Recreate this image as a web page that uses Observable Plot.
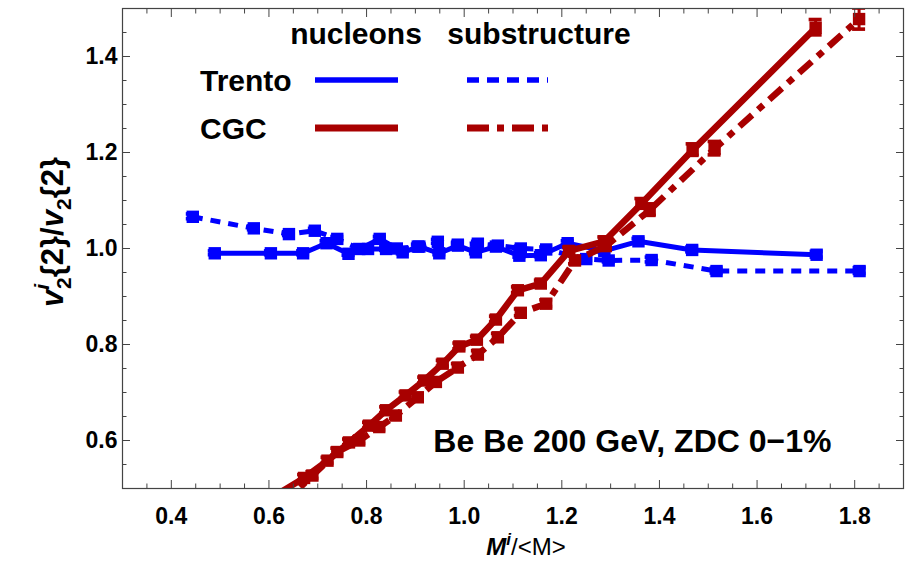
<!DOCTYPE html>
<html><head><meta charset="utf-8">
<script src="https://cdn.jsdelivr.net/npm/d3@7"></script>
<script src="https://cdn.jsdelivr.net/npm/@observablehq/plot@0.6"></script>
<style>
body{margin:0;background:#fff;}
#chart{width:907px;height:564px;}
</style></head><body><div id="chart"></div>
<script>
// ---- data ----
const trentoNucX = [0.489,0.604,0.670,0.718,0.763,0.803,0.840,0.874,0.908,0.949,0.987,1.024,1.065,1.113,1.157,1.212,1.287,1.357,1.467,1.722];
const trentoNucY = [0.990,0.990,0.990,1.011,0.989,0.999,0.999,0.992,1.004,0.990,1.006,0.992,1.004,0.985,0.986,1.011,0.995,1.015,0.997,0.987];
const trentoNucErr = [0.004,0.004,0.004,0.004,0.004,0.004,0.004,0.004,0.004,0.004,0.004,0.004,0.004,0.004,0.004,0.004,0.004,0.005,0.005,0.006];

const trentoSubX = [0.444,0.569,0.641,0.694,0.740,0.785,0.827,0.862,0.905,0.946,0.987,1.028,1.069,1.116,1.168,1.250,1.296,1.384,1.517,1.810];
const trentoSubY = [1.066,1.042,1.030,1.037,1.020,0.999,1.020,1.000,1.004,1.014,1.008,1.010,1.006,1.000,0.998,0.978,0.975,0.976,0.953,0.953];
const trentoSubErr = [0.005,0.004,0.004,0.004,0.004,0.004,0.004,0.004,0.004,0.004,0.004,0.004,0.004,0.004,0.004,0.004,0.004,0.005,0.005,0.006];

const cgcNucX = [0.489,0.604,0.672,0.720,0.764,0.805,0.840,0.880,0.918,0.956,0.990,1.026,1.065,1.110,1.157,1.215,1.287,1.363,1.468,1.720];
const cgcNucY = [0.370,0.480,0.522,0.558,0.596,0.631,0.663,0.694,0.725,0.760,0.796,0.810,0.852,0.913,0.927,0.995,1.015,1.093,1.205,1.460];
const cgcNucErr = [0.006,0.006,0.006,0.006,0.006,0.006,0.006,0.006,0.006,0.006,0.006,0.006,0.006,0.006,0.006,0.007,0.008,0.010,0.012,0.016];

const cgcSubX = [0.444,0.569,0.641,0.689,0.740,0.785,0.826,0.860,0.905,0.942,0.987,1.028,1.069,1.116,1.168,1.227,1.290,1.380,1.513,1.809];
const cgcSubY = [0.300,0.410,0.480,0.527,0.576,0.600,0.628,0.652,0.690,0.722,0.752,0.779,0.815,0.866,0.885,0.975,1.005,1.080,1.208,1.478];
const cgcSubErr = [0.007,0.007,0.007,0.007,0.007,0.007,0.007,0.007,0.007,0.007,0.007,0.007,0.007,0.007,0.007,0.008,0.009,0.012,0.014,0.022];

const xMajor = [0.4,0.6,0.8,1.0,1.2,1.4,1.6,1.8];
const xMinor = [0.35,0.45,0.5,0.55,0.65,0.7,0.75,0.85,0.9,0.95,1.05,1.1,1.15,1.25,1.3,1.35,1.45,1.5,1.55,1.65,1.7,1.75,1.85];
const yMajor = [0.6,0.8,1.0,1.2,1.4];
const yMinor = [0.55,0.65,0.7,0.75,0.85,0.9,0.95,1.05,1.1,1.15,1.25,1.3,1.35,1.45];

const legendCols = ["nucleons","substructure"];
const legendRows = ["Trento","CGC"];
const annotation = ["Be Be 200 GeV, ZDC 0\u22121%"];

// ---- styles ----
const BLUE = "#0000ff", RED = "#a80000";
const FONT = "'Liberation Sans', Arial, sans-serif";
const series = [
  {name:"Trento nucleons", xs:trentoNucX, ys:trentoNucY, es:trentoNucErr, color:BLUE, width:5, dash:null},
  {name:"Trento substructure", xs:trentoSubX, ys:trentoSubY, es:trentoSubErr, color:BLUE, width:5, dash:"10,8"},
  {name:"CGC nucleons", xs:cgcNucX, ys:cgcNucY, es:cgcNucErr, color:RED, width:6.5, dash:null},
  {name:"CGC substructure", xs:cgcSubX, ys:cgcSubY, es:cgcSubErr, color:RED, width:6.5, dash:"17,8,7,8"}
];
const rowsOf = s => s.xs.map((x,i)=>({x, y:s.ys[i], lo:s.ys[i]-s.es[i], hi:s.ys[i]+s.es[i]}));
const inside = d => d.y >= 0.5 && d.y <= 1.5;

const marks = [];
for (const s of series) {
  const rows = rowsOf(s);
  const vis = rows.filter(inside);
  marks.push(Plot.line(rows, {x:"x", y:"y", stroke:s.color, strokeWidth:s.width, strokeDasharray:s.dash, strokeLinecap:"butt", strokeLinejoin:"miter", clip:true}));
  marks.push(Plot.ruleX(vis, {x:"x", y1:"lo", y2:"hi", stroke:s.color, strokeWidth:3, clip:true}));
  marks.push(Plot.rect(vis, {x1:"x", x2:"x", y1:"hi", y2:"hi", insetLeft:-6.5, insetRight:-6.5, insetTop:-1.8, insetBottom:-1.8, fill:s.color, clip:true}));
  marks.push(Plot.rect(vis, {x1:"x", x2:"x", y1:"lo", y2:"lo", insetLeft:-6.5, insetRight:-6.5, insetTop:-1.8, insetBottom:-1.8, fill:s.color, clip:true}));
  marks.push(Plot.dot(vis, {x:"x", y:"y", symbol:"square", r:7, fill:s.color, stroke:"none"}));
}

const TC = "#444";
const noText = () => "";
const axes = [
  Plot.axisX(xMajor, {anchor:"bottom", tickSize:-8, tickFormat:noText, label:null, stroke:TC}),
  Plot.axisX(xMinor, {anchor:"bottom", tickSize:-4.5, tickFormat:noText, label:null, stroke:TC}),
  Plot.axisX(xMajor, {anchor:"top", tickSize:-8, tickFormat:noText, label:null, stroke:TC}),
  Plot.axisX(xMinor, {anchor:"top", tickSize:-4.5, tickFormat:noText, label:null, stroke:TC}),
  Plot.axisY(yMajor, {anchor:"left", tickSize:-8, tickFormat:noText, label:null, stroke:TC}),
  Plot.axisY(yMinor, {anchor:"left", tickSize:-4.5, tickFormat:noText, label:null, stroke:TC}),
  Plot.axisY(yMajor, {anchor:"right", tickSize:-8, tickFormat:noText, label:null, stroke:TC}),
  Plot.axisY(yMinor, {anchor:"right", tickSize:-4.5, tickFormat:noText, label:null, stroke:TC}),
  Plot.axisX(xMajor, {anchor:"bottom", tickSize:0, tickPadding:19, tickFormat:d3.format(".1f"), label:null, fontSize:23, fontWeight:"bold", fill:"#000"}),
  Plot.axisY(yMajor, {anchor:"left", tickSize:0, tickPadding:5, tickFormat:d3.format(".1f"), label:null, fontSize:23, fontWeight:"bold", fill:"#000"}),
  Plot.frame({stroke:TC, strokeWidth:1.2})
];

const ann = Plot.text(annotation, {text:d=>d, frameAnchor:"bottom-right", dx:-72, dy:-37, lineAnchor:"bottom", textAnchor:"end", fontSize:32, fontWeight:"bold", fill:"#000"});

const svg = Plot.plot({
  width:907, height:564,
  marginLeft:122, marginRight:4, marginTop:8, marginBottom:76,
  style:{fontFamily:FONT, background:"#fff", overflow:"visible"},
  x:{domain:[0.3,1.9], axis:null},
  y:{domain:[0.5,1.5], axis:null},
  marks:[...marks, ...axes, ann]
});
document.getElementById("chart").appendChild(svg);

// ---- legend, drawn into the same svg ----
const g = d3.select(svg).append("g").style("font-family", FONT).attr("text-anchor","start");
g.append("text").attr("x",356).attr("y",44).attr("text-anchor","middle").style("font-size","30px").style("font-weight","bold").text(legendCols[0]);
g.append("text").attr("x",539).attr("y",44).attr("text-anchor","middle").style("font-size","30px").style("font-weight","bold").text(legendCols[1]);
legendRows.forEach((name,i)=>{
  const cy = 80 + i*48;
  const sNuc = series[i*2], sSub = series[i*2+1];
  g.append("text").attr("x",200).attr("y",cy+11).attr("text-anchor","start").style("font-size","30px").style("font-weight","bold").text(name);
  g.append("line").attr("x1",315).attr("x2",398).attr("y1",cy).attr("y2",cy).attr("stroke",sNuc.color).attr("stroke-width",sNuc.width+0.5);
  g.append("line").attr("x1",467).attr("x2",548).attr("y1",cy).attr("y2",cy).attr("stroke",sSub.color).attr("stroke-width",sSub.width+0.5).attr("stroke-dasharray",i===0?"12,8":"22,8,7,8");
});

// axis titles
const yl = d3.select(svg).append("text").attr("transform","translate(63,232) rotate(-90)").attr("text-anchor","middle")
  .style("font-family",FONT).style("font-size","31px").style("font-weight","bold");
yl.append("tspan").style("font-style","italic").text("v");
yl.append("tspan").style("font-style","italic").style("font-size","21px").attr("dy",-14).text("i");
yl.append("tspan").style("font-size","21px").attr("dx",-5).attr("dy",22).text("2");
yl.append("tspan").attr("dy",-8).text("{2}/");
yl.append("tspan").style("font-style","italic").text("v");
yl.append("tspan").style("font-size","21px").attr("dy",8).text("2");
yl.append("tspan").attr("dy",-8).text("{2}");

const xl = d3.select(svg).append("text").attr("x",526).attr("y",555).attr("text-anchor","middle")
  .style("font-family",FONT).style("font-size","24px");
xl.append("tspan").style("font-style","italic").style("font-weight","bold").text("M");
xl.append("tspan").style("font-style","italic").style("font-weight","bold").style("font-size","17px").attr("dy",-10).text("i");
xl.append("tspan").attr("dy",10).text("/<M>");
</script>
</body></html>
